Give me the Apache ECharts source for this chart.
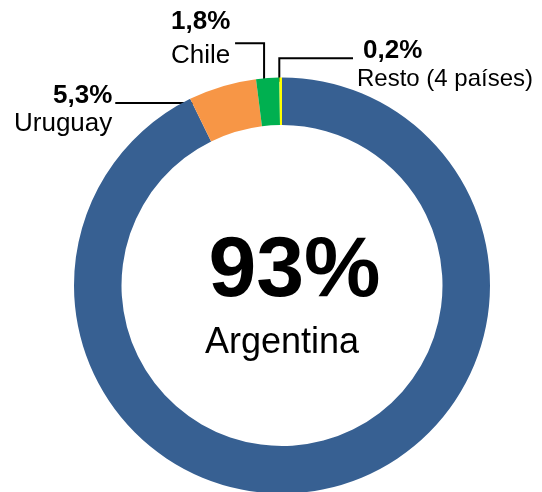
<!DOCTYPE html>
<html>
<head>
<meta charset="utf-8">
<script src="https://cdn.jsdelivr.net/npm/echarts@6/dist/echarts.min.js"></script>
<style>
  html, body { margin: 0; padding: 0; background: #fff; }
  #chart { width: 542px; height: 492px; }
</style>
</head>
<body>
<div id="chart"></div>
<script>
// datos (participación %)
const categories = ['Argentina', 'Uruguay', 'Chile', 'Resto (4 países)'];
const shares = [93, 5.3, 1.8, 0.2];
const colors = ['#376092', '#F79646', '#00B050', '#FFFF00'];

// ubicación de etiquetas, relativa al punto del borde del sector
const labelSpots = {
  1: { dx: -110, dy: -4.5, align: 'right', line: [[-17, 16.7], [-60, 16.7], [-107, 16.7]] },
  2: { dx: -96.6, dy: -73.6, align: 'left', line: [[-3.6, 10.3], [-3.6, -34.7], [-32.6, -34.7]] },
  3: { dx: 76.3, dy: -41.3, align: 'left', line: [[-1.4, 4.2], [-1.4, -19.2], [72.3, -19.2]] }
};

const font = "'Liberation Sans', Arial, sans-serif";
const fmt = v => String(v).replace('.', ',');

function sideLabel(i) {
  const lh = i === 2 ? 34 : (i === 3 ? 29 : 28);
  return {
    show: true,
    position: 'outside',
    formatter: p => '{p|' + fmt(p.value) + '%}\n{n|' + p.name + '}',
    rich: {
      p: { fontSize: 26, fontWeight: 'bold', color: '#000', fontFamily: font, lineHeight: lh,
           padding: i === 3 ? [0, 0, 0, 6] : 0 },
      n: { fontSize: i === 3 ? 24 : 26, color: '#000', fontFamily: font, lineHeight: lh }
    }
  };
}

const data = categories.map((name, i) => {
  const item = { name: name, value: shares[i], itemStyle: { color: colors[i] } };
  if (i === 0) {
    item.label = {
      show: true,
      position: 'center',
      formatter: p => '{big|' + fmt(p.value) + '%}\n{arg|' + p.name + '}',
      rich: {
        big: { fontSize: 86, fontWeight: 'bold', color: '#000', fontFamily: font, lineHeight: 116, padding: [0, 0, 0, 25] },
        arg: { fontSize: 36, color: '#000', fontFamily: font, lineHeight: 26 }
      }
    };
    item.labelLine = { show: false };
  } else {
    item.label = sideLabel(i);
  }
  return item;
});

const myChart = echarts.init(document.getElementById('chart'));

const option = {
  animation: false,
  series: [
    {
      type: 'pie',
      center: [282, 285.5],
      radius: [160.5, 208],
      startAngle: 90,
      clockwise: true,
      avoidLabelOverlap: false,
      itemStyle: { borderWidth: 0 },
      emphasis: { disabled: true },
      labelLine: {
        show: true,
        length: 20,
        length2: 20,
        lineStyle: { color: '#000', width: 2 }
      },
      labelLayout: function (params) {
        const spot = labelSpots[params.dataIndex];
        if (!spot || !params.labelLinePoints) return {};
        const p = params.labelLinePoints[0];
        return {
          x: p[0] + spot.dx,
          y: p[1] + spot.dy,
          align: spot.align,
          verticalAlign: 'top',
          labelLinePoints: spot.line.map(q => [p[0] + q[0], p[1] + q[1]])
        };
      },
      data: data
    }
  ]
};

myChart.setOption(option);
</script>
</body>
</html>
